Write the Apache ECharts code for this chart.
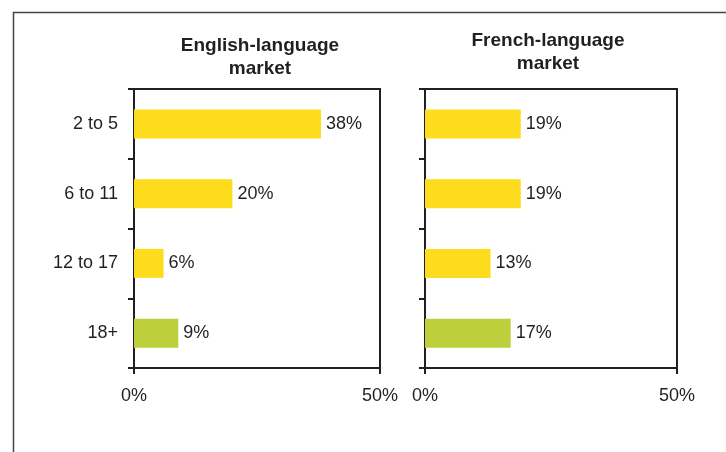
<!DOCTYPE html>
<html>
<head>
<meta charset="utf-8">
<script src="https://cdn.jsdelivr.net/npm/echarts@6/dist/echarts.min.js"></script>
<style>
  html, body { margin: 0; padding: 0; background: #fff; }
  #chart { width: 726px; height: 452px; }
</style>
</head>
<body>
<div id="chart"></div>
<script>
  // age categories (top to bottom)
  var ageGroups = ['2 to 5', '6 to 11', '12 to 17', '18+'];
  // share of viewing, percent
  var englishMarket = [38, 20, 6, 9];
  var frenchMarket = [19, 19, 13, 17];
  var panelTitles = ['English-language\nmarket', 'French-language\nmarket'];
  var xTicks = [0, 50];

  var ink = '#231f20';
  var font = 'Arial, "Liberation Sans", sans-serif';
  var fs = 18;

  function barColor(p) {
    // adult group drawn in green, kids in yellow
    return p.dataIndex === ageGroups.length - 1 ? '#bdcf3a' : '#fcdc1c';
  }

  function xAxisFor(idx) {
    return {
      gridIndex: idx,
      type: 'value',
      min: xTicks[0],
      max: xTicks[xTicks.length - 1],
      interval: xTicks[1] - xTicks[0],
      axisLine: { show: true, lineStyle: { color: ink, width: 2 } },
      axisTick: { show: true, length: 6, lineStyle: { color: ink, width: 2 } },
      axisLabel: { formatter: '{value}%', fontSize: fs, color: ink, fontFamily: font, margin: 19 },
      splitLine: { show: false }
    };
  }

  function yAxisFor(idx, showLabels) {
    return {
      gridIndex: idx,
      type: 'category',
      inverse: true,
      data: ageGroups,
      axisLine: { show: true, lineStyle: { color: ink, width: 2 } },
      axisTick: { show: true, length: 6, lineStyle: { color: ink, width: 2 } },
      axisLabel: { show: showLabels, fontSize: fs, color: ink, fontFamily: font, margin: 16 }
    };
  }

  function seriesFor(idx, values) {
    return {
      type: 'bar',
      xAxisIndex: idx,
      yAxisIndex: idx,
      data: values,
      barWidth: 29,
      itemStyle: { color: barColor },
      label: {
        show: true,
        position: 'right',
        distance: 5,
        formatter: '{c}%',
        fontSize: fs,
        color: ink,
        fontFamily: font
      }
    };
  }

  var chart = echarts.init(document.getElementById('chart'), null, { renderer: 'canvas' });
  chart.setOption({
    animation: false,
    backgroundColor: '#fff',
    title: [
      {
        text: panelTitles[0], left: 260, top: 34, textAlign: 'center', padding: 0,
        textStyle: { fontSize: 19, fontWeight: 'bold', color: ink, fontFamily: font, lineHeight: 23 }
      },
      {
        text: panelTitles[1], left: 548, top: 29, textAlign: 'center', padding: 0,
        textStyle: { fontSize: 19, fontWeight: 'bold', color: ink, fontFamily: font, lineHeight: 23 }
      }
    ],
    graphic: [
      {
        type: 'rect',
        shape: { x: 13.5, y: 12.5, width: 800, height: 500 },
        style: { fill: null, stroke: '#444', lineWidth: 1.5 },
        silent: true
      }
    ],
    grid: [
      { left: 134, top: 89, width: 246, height: 279, show: true, borderColor: ink, borderWidth: 2 },
      { left: 425, top: 89, width: 252, height: 279, show: true, borderColor: ink, borderWidth: 2 }
    ],
    xAxis: [xAxisFor(0), xAxisFor(1)],
    yAxis: [yAxisFor(0, true), yAxisFor(1, false)],
    series: [seriesFor(0, englishMarket), seriesFor(1, frenchMarket)]
  });
</script>
</body>
</html>
